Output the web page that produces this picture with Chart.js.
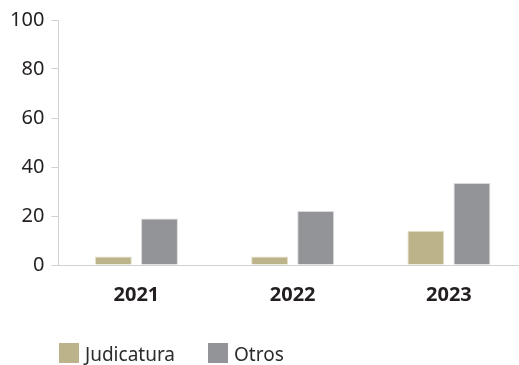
<!DOCTYPE html>
<html>
<head>
<meta charset="utf-8">
<script src="https://cdn.jsdelivr.net/npm/chart.js@4.4.1/dist/chart.umd.min.js"></script>
<style>
    html, body { margin: 0; padding: 0; background: #fff; overflow: hidden; }
    #wrap { position: relative; width: 519px; height: 365px; overflow: hidden; }
    #chart1 { position: absolute; left: 0; top: 0; }
    #legend {
        position: absolute; left: 59px; top: 341px;
        display: flex; align-items: center;
        font-family: 'Noto Sans', sans-serif; font-size: 19px; color: #2b2b2b;
        line-height: 20px;
    }
    #legend .item { display: flex; align-items: center; margin-right: 33px; }
    #legend .swatch { width: 20px; height: 20px; margin-right: 6px; }
    #legend .text { padding-top: 3px; }
</style>
</head>
<body>
<div id="wrap">
    <canvas id="chart1" width="527" height="365"></canvas>
    <div id="legend"></div>
</div>
<script>
const years = ['2021', '2022', '2023'];
const judicatura = [3.5, 3.5, 14];
const otros = [19, 22, 33.5];
const yTicks = [0, 20, 40, 60, 80, 100];

const fillColors = ['#bcb38b', '#939498'];
const edgeColors = ['#e6e0c8', '#d9d9db'];

document.addEventListener('DOMContentLoaded', function () {
    const chart = barChart('chart1', years, [
        { label: 'Judicatura', data: judicatura },
        { label: 'Otros', data: otros }
    ]);
    buildLegend(chart);
});

function barChart(canvas, labels, series) {
    const ctx = document.getElementById(canvas);
    return new Chart(ctx, {
        type: 'bar',
        data: {
            labels: labels,
            datasets: series.map(function (s, i) {
                return {
                    label: s.label,
                    data: s.data,
                    backgroundColor: fillColors[i],
                    borderColor: edgeColors[i],
                    borderWidth: 1,
                    categoryPercentage: 0.59,
                    barPercentage: 0.8
                };
            })
        },
        options: {
            responsive: false,
            animation: false,
            layout: {
                padding: { top: 20, left: 3, right: 0, bottom: 40 }
            },
            plugins: {
                legend: { display: false },
                tooltip: { enabled: false }
            },
            scales: {
                x: {
                    grid: { display: false, drawTicks: false },
                    border: { display: true, color: '#d2d2d2', width: 1 },
                    ticks: {
                        color: '#231f20',
                        padding: 18,
                        font: { family: "'Noto Sans', sans-serif", size: 20, weight: 'bold' }
                    }
                },
                y: {
                    min: yTicks[0],
                    max: yTicks[yTicks.length - 1],
                    ticks: {
                        stepSize: yTicks[1] - yTicks[0],
                        color: '#231f20',
                        padding: 7,
                        font: { family: "'Noto Sans', sans-serif", size: 20 }
                    },
                    grid: {
                        drawOnChartArea: false,
                        drawTicks: true,
                        tickLength: 7,
                        color: '#d2d2d2'
                    },
                    border: { display: true, color: '#d2d2d2', width: 1 }
                }
            }
        }
    });
}

// html legend built from the chart datasets
function buildLegend(chart) {
    let content = '';
    chart.data.datasets.map(function (ds) {
        content += `<span class="item"><span class="swatch" style="background:${ds.backgroundColor}"></span><span class="text">${ds.label}</span></span>`;
    });
    document.getElementById('legend').innerHTML = content;
}
</script>
</body>
</html>
